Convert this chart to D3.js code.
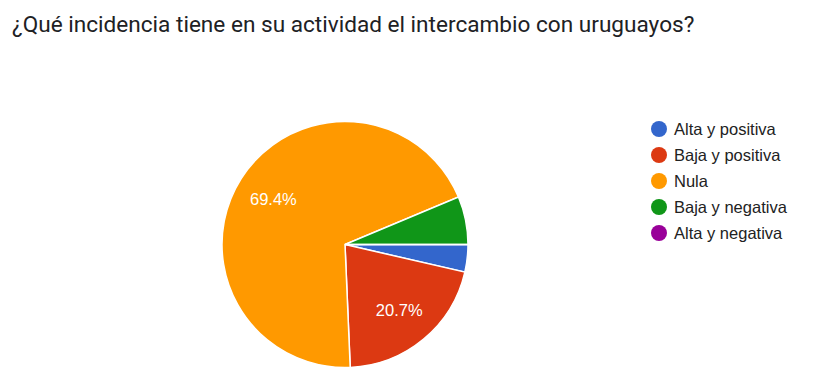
<!DOCTYPE html>
<html><head><meta charset="utf-8">
<script src="https://cdn.jsdelivr.net/npm/d3@7"></script>
<style>body{margin:0;background:#fff;}</style>
</head><body>
<svg id="c" width="820" height="391"></svg>
<script>
const title = "¿Qué incidencia tiene en su actividad el intercambio con uruguayos?";
const categories = ["Alta y positiva","Baja y positiva","Nula","Baja y negativa","Alta y negativa"];
const counts = [4, 23, 77, 7, 0];
const colors = ["#3366cc","#dc3912","#ff9900","#109618","#990099"];

const svg = d3.select("#c");
svg.append("text").attr("x", 12).attr("y", 32)
  .attr("font-family", "Roboto").attr("font-size", 22.6).attr("fill", "#202124")
  .text(title);

const cx = 345, cy = 244.5, r = 123;
const total = d3.sum(counts);
const pie = d3.pie().sort(null).value(d => d).startAngle(Math.PI/2).endAngle(Math.PI/2 + 2*Math.PI);
const arcs = pie(counts);
const arc = d3.arc().innerRadius(0).outerRadius(r);
const labelArc = d3.arc().innerRadius(r*0.69).outerRadius(r*0.69);
const g = svg.append("g").attr("transform", `translate(${cx},${cy})`);
g.selectAll("path").data(arcs).join("path")
  .attr("d", arc).attr("fill", (d,i) => colors[i])
  .attr("stroke", "#fff").attr("stroke-width", 1.5);
g.selectAll("text").data(arcs.filter(d => d.value/total > 0.1)).join("text")
  .attr("transform", d => `translate(${labelArc.centroid(d)})`)
  .attr("text-anchor", "middle").attr("dy", "0.35em")
  .attr("font-family", "Liberation Sans, Arial").attr("font-size", 16.5).attr("fill", "#fff")
  .text(d => d3.format(".1%")(d.value/total));

const leg = svg.append("g");
const ly = d3.scalePoint().domain(categories).range([129, 233]);
categories.forEach((c,i) => {
  leg.append("circle").attr("cx", 659).attr("cy", ly(c)).attr("r", 8).attr("fill", colors[i]);
  leg.append("text").attr("x", 674).attr("y", ly(c)).attr("dy", "0.35em")
    .attr("font-family", "Liberation Sans, Arial").attr("font-size", 16.5).attr("fill", "#222")
    .text(c);
});
</script>
</body></html>
